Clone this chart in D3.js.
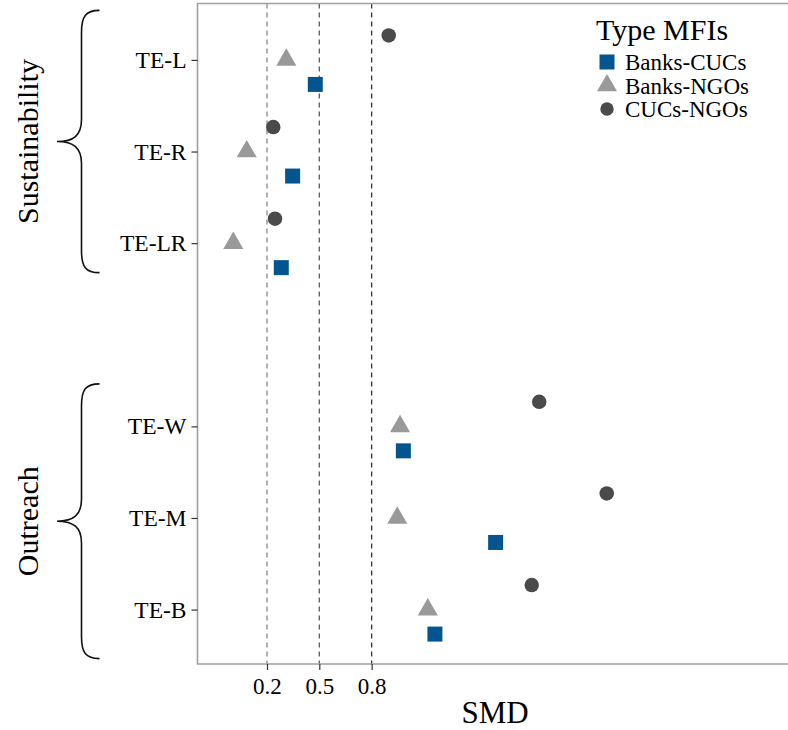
<!DOCTYPE html>
<html>
<head>
<meta charset="utf-8">
<script src="https://cdn.jsdelivr.net/npm/d3@7"></script>
<style>
  html, body { margin: 0; padding: 0; background: #fff; }
  svg { display: block; font-family: "Liberation Serif", "Times New Roman", serif; }
  svg text { font-family: "Liberation Serif", "Times New Roman", serif; }
</style>
</head>
<body>
<svg id="chart" width="788" height="730"></svg>
<script>
// ---- data ----
const categories = ["TE-L", "TE-R", "TE-LR", "", "TE-W", "TE-M", "TE-B"];
const seriesNames = ["CUCs-NGOs", "Banks-NGOs", "Banks-CUCs"];
const banksCUCs  = [0.477, 0.347, 0.282, null, 0.982, 1.511, 1.163];
const banksNGOs  = [0.311, 0.084, 0.007, null, 0.963, 0.947, 1.122];
const cucsNGOs   = [0.898, 0.236, 0.246, null, 1.761, 2.148, 1.718];
const xTicks = [0.2, 0.5, 0.8];
const legendOrder = ["Banks-CUCs", "Banks-NGOs", "CUCs-NGOs"];
const groupLabels = ["Sustainability", "Outreach"];
const groupFrom = ["TE-L", "TE-W"];
const groupTo = ["TE-LR", "TE-B"];

const seriesValues = {
  "Banks-CUCs": banksCUCs,
  "Banks-NGOs": banksNGOs,
  "CUCs-NGOs": cucsNGOs
};
const colors = { "Banks-CUCs": "#03558f", "Banks-NGOs": "#999999", "CUCs-NGOs": "#4a4a4a" };
const shapes = { "Banks-CUCs": d3.symbolSquare, "Banks-NGOs": d3.symbolTriangle, "CUCs-NGOs": d3.symbolCircle };
const sizes  = { "Banks-CUCs": 225, "Banks-NGOs": 175, "CUCs-NGOs": 165 };

const svg = d3.select("#chart");
const P = { left: 197.5, right: 800, top: 3.5, bottom: 664 };
const FONT = "Liberation Serif, Times New Roman, serif";

const x = d3.scaleLinear().domain([0, 1]).range([232.1, 232.1 + 174.4]);
const catKey = (c, i) => c || "__gap" + i;
const y = d3.scalePoint().domain(categories.map(catKey))
  .range([P.top + 1, P.bottom + 1]).padding(0.605);
const dodge = d3.scalePoint().domain(seriesNames).range([-24.5, 24.5]);

// reference lines
const refColors = ["#8a8a8a", "#5a5a5a", "#333333"];
svg.append("g").selectAll("line").data(xTicks).join("line")
  .attr("x1", d => x(d)).attr("x2", d => x(d))
  .attr("y1", P.top).attr("y2", P.bottom)
  .attr("stroke", (d, i) => refColors[i]).attr("stroke-width", 1.3)
  .attr("stroke-dasharray", "5,4");

// panel border (left, top, bottom)
svg.append("path")
  .attr("d", `M${P.right},${P.top}H${P.left}V${P.bottom}H${P.right}`)
  .attr("fill", "none").attr("stroke", "#a0a0a0").attr("stroke-width", 1.6);

// y axis
const yAxis = d3.axisLeft(y).tickSize(6).tickPadding(5)
  .tickValues(categories.filter(c => c))
  .tickFormat(d => d);
const gy = svg.append("g").attr("transform", `translate(${P.left},0)`).call(yAxis);
gy.select(".domain").remove();
gy.attr("font-family", FONT);
gy.selectAll(".tick line").attr("stroke", "#333").attr("stroke-width", 1.2);
gy.selectAll(".tick text").attr("font-size", 23.5).attr("fill", "#000");

// x axis
const xAxis = d3.axisBottom(x).tickValues(xTicks).tickSize(6).tickPadding(8)
  .tickFormat(d3.format(".1f"));
const gx = svg.append("g").attr("transform", `translate(0,${P.bottom})`).call(xAxis);
gx.select(".domain").remove();
gx.attr("font-family", FONT);
gx.selectAll(".tick line").attr("stroke", "#333").attr("stroke-width", 1.2);
gx.selectAll(".tick text").attr("font-size", 23).attr("fill", "#000");

// x title
svg.append("text").attr("x", 495).attr("y", 723).attr("text-anchor", "middle")
  .attr("font-size", 31).attr("fill", "#000").text("SMD");

// points
const pts = [];
seriesNames.forEach(s => {
  seriesValues[s].forEach((v, i) => {
    if (v != null) pts.push({ s, v, key: catKey(categories[i], i) });
  });
});
svg.append("g").selectAll("path").data(pts).join("path")
  .attr("transform", d => `translate(${x(d.v)},${y(d.key) + dodge(d.s)})`)
  .attr("d", d => d3.symbol(shapes[d.s], sizes[d.s])())
  .attr("fill", d => colors[d.s]);

// legend
const lg = svg.append("g");
lg.append("text").attr("x", 596).attr("y", 40).attr("font-size", 30).attr("fill", "#000").text("Type MFIs");
legendOrder.forEach((s, i) => {
  const cy = 62 + i * 23.5;
  lg.append("path").attr("transform", `translate(607,${cy})`)
    .attr("d", d3.symbol(shapes[s], s === "CUCs-NGOs" ? 140 : sizes[s])())
    .attr("fill", colors[s]);
  lg.append("text").attr("x", 625).attr("y", cy + 8).attr("font-size", 23).attr("fill", "#000").text(s);
});

// braces and group labels
function bracePath(top, bot, xEnd, xLine, xTip) {
  const mid = (top + bot) / 2;
  return `M${xEnd},${top} C${xLine + 4},${top} ${xLine},${top + 6} ${xLine},${top + 22}` +
    ` L${xLine},${mid - 22} C${xLine},${mid - 6} ${xLine - 8},${mid} ${xTip},${mid}` +
    ` C${xLine - 8},${mid} ${xLine},${mid + 6} ${xLine},${mid + 22}` +
    ` L${xLine},${bot - 22} C${xLine},${bot - 6} ${xLine + 4},${bot} ${xEnd},${bot}`;
}
const braceExtend = [[49.5, 29.5], [42.5, 49]];
groupLabels.forEach((label, gi) => {
  const iFrom = categories.indexOf(groupFrom[gi]), iTo = categories.indexOf(groupTo[gi]);
  const top = y(catKey(groupFrom[gi], iFrom)) - braceExtend[gi][0];
  const bot = y(catKey(groupTo[gi], iTo)) + braceExtend[gi][1];
  svg.append("path").attr("d", bracePath(top, bot, 99.5, 81.5, 57))
    .attr("fill", "none").attr("stroke", "#111").attr("stroke-width", 1.6);
  const mid = (top + bot) / 2;
  svg.append("text")
    .attr("transform", `translate(38,${mid}) rotate(-90)`)
    .attr("text-anchor", "middle").attr("font-size", 30).attr("fill", "#000")
    .text(label);
});
</script>
</body>
</html>
